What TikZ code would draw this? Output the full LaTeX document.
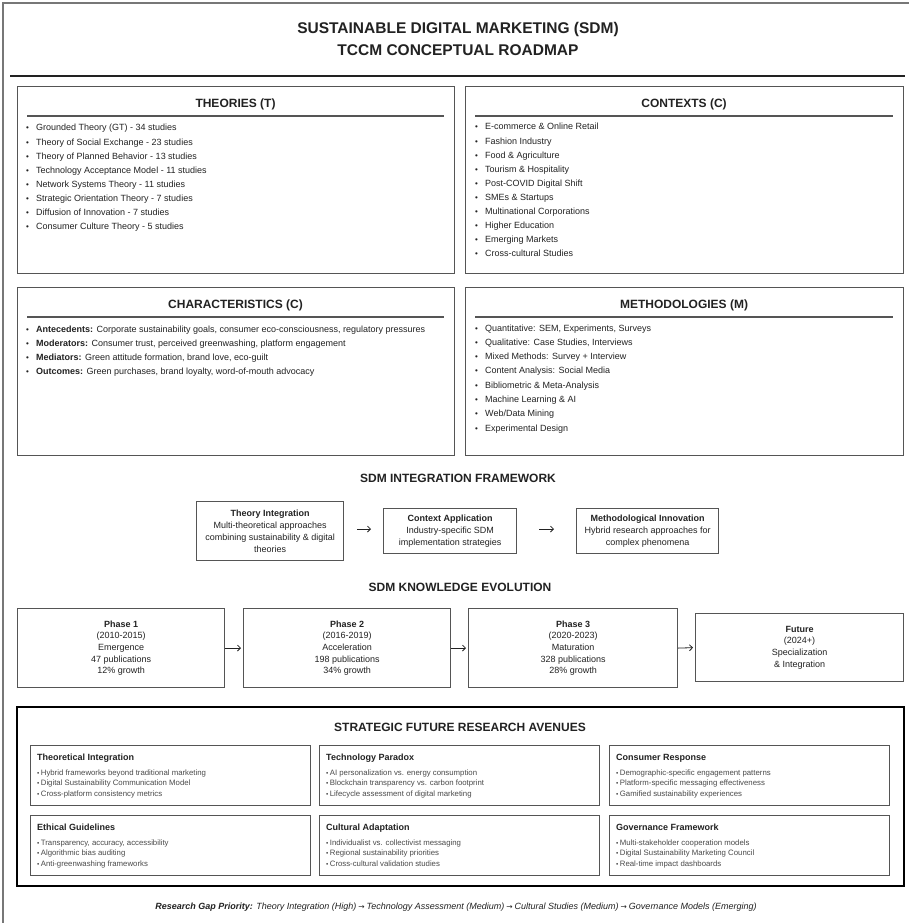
\documentclass[tikz,border=0pt]{standalone}
\usepackage{fontspec}
\setmainfont{Liberation Sans}
\newfontfamily\symfont{DejaVu Sans}
\usetikzlibrary{arrows.meta,calc}
\definecolor{boxgray}{HTML}{555555}
\definecolor{txt}{HTML}{222222}
\definecolor{subtxt}{HTML}{4A4A4A}
\definecolor{framegray}{HTML}{777777}
\newcommand\bul{\makebox[10pt][l]{\fontsize{8}{8}\selectfont •}}
\newcommand\sbul{{\fontsize{6.5}{6}\selectfont •}\hspace{1.4pt}}
\newcommand\harr{\hspace{2pt}{\symfont\fontsize{7.5}{7}\selectfont →}\hspace{2pt}}
\tikzset{
  panel/.style={draw=boxgray, line width=1.3pt, anchor=north west, inner sep=0pt},
  hdr/.style={font=\bfseries\fontsize{12}{14}\selectfont, text=txt},
  hrule/.style={draw=boxgray, line width=1.2pt},
  item/.style={anchor=base west, font=\fontsize{9}{11}\selectfont, text=txt, inner sep=0pt},
  sectitle/.style={font=\bfseries\fontsize{12}{14}\selectfont, text=txt},
  fwbox/.style={draw=boxgray, line width=1.2pt, align=center, font=\fontsize{9}{12}\selectfont, text=txt, inner sep=0pt, anchor=north west},
  phasebox/.style={draw=boxgray, line width=1.2pt, anchor=north west, inner sep=0pt},
  phasetxt/.style={align=center, font=\fontsize{9}{11.7}\selectfont, text=txt},
  subbox/.style={draw=boxgray, line width=1.2pt, anchor=north west, inner sep=0pt},
  subttl/.style={anchor=base west, font=\bfseries\fontsize{9}{11}\selectfont, text=txt, inner sep=0pt},
  subitem/.style={anchor=base west, font=\fontsize{7.8}{9}\selectfont, text=subtxt, inner sep=0pt},
  arr/.style={-{Straight Barb[length=3pt,width=6pt]}, line width=0.8pt, draw=txt},
}
\newcommand\mksub[5]{%
  \node[subbox, minimum width=280, minimum height=60] (#1) at (#2,#3) {};
  \node[subttl] (#1t) at ({#2+7},{#3+15}) {#4};
  \foreach \t [count=\i from 0] in {#5}
    \node[subitem] (#1i\i) at ({#2+7},{#3+30+10.5*\i}) {\sbul\t};
}
\begin{document}
\begin{tikzpicture}[x=1pt,y=-1pt]
\useasboundingbox (0,0) rectangle (909,923);
\fill[white] (0,0) rectangle (909,923);
% outer frame (left and top edges visible)
\draw[framegray, line width=1.5pt] (3,923) -- (3,3) -- (909,3);

% title
\node[font=\bfseries\fontsize{15.5}{22}\selectfont, align=center, text=txt] (title) at (458,39)
  {SUSTAINABLE DIGITAL MARKETING (SDM)\\TCCM CONCEPTUAL ROADMAP};
\coordinate (rl) at (10,76);
\coordinate (rr) at (905,76);
\draw[line width=2.5pt, draw=txt] (rl) -- (rr);

% THEORIES
\node[panel, minimum width=437, minimum height=187] (T) at (17,86) {};
\node[hdr] (Th) at (235.5,104) {THEORIES (T)};
\draw[hrule] (27,116) -- (444,116);
\foreach \t [count=\i from 0] in {
  {Grounded Theory (GT) - 34 studies},
  {Theory of Social Exchange - 23 studies},
  {Theory of Planned Behavior - 13 studies},
  {Technology Acceptance Model - 11 studies},
  {Network Systems Theory - 11 studies},
  {Strategic Orientation Theory - 7 studies},
  {Diffusion of Innovation - 7 studies},
  {Consumer Culture Theory - 5 studies}}
  \node[item] (ti\i) at (26,{131+14.1*\i}) {\bul\t};

% CONTEXTS
\node[panel, minimum width=438, minimum height=187] (C) at (465,86) {};
\node[hdr] (Ch) at (684,104) {CONTEXTS (C)};
\draw[hrule] (475,116) -- (893,116);
\foreach \t [count=\i from 0] in {
  {E-commerce \& Online Retail},
  {Fashion Industry},
  {Food \& Agriculture},
  {Tourism \& Hospitality},
  {Post-COVID Digital Shift},
  {SMEs \& Startups},
  {Multinational Corporations},
  {Higher Education},
  {Emerging Markets},
  {Cross-cultural Studies}}
  \node[item] (ci\i) at (475,{130+14.1*\i}) {\bul\t};

% CHARACTERISTICS
\node[panel, minimum width=437, minimum height=168] (K) at (17,287) {};
\node[hdr] (Kh) at (235.5,305) {CHARACTERISTICS (C)};
\draw[hrule] (27,317) -- (444,317);
\foreach \t [count=\i from 0] in {
  {\textbf{Antecedents:} Corporate sustainability goals, consumer eco-consciousness, regulatory pressures},
  {\textbf{Moderators:} Consumer trust, perceived greenwashing, platform engagement},
  {\textbf{Mediators:} Green attitude formation, brand love, eco-guilt},
  {\textbf{Outcomes:} Green purchases, brand loyalty, word-of-mouth advocacy}}
  \node[item] (ki\i) at (26,{332+14.3*\i}) {\bul\t};

% METHODOLOGIES
\node[panel, minimum width=438, minimum height=168] (M) at (465,287) {};
\node[hdr] (Mh) at (684,305) {METHODOLOGIES (M)};
\draw[hrule] (475,317) -- (893,317);
\foreach \t [count=\i from 0] in {
  {Quantitative: SEM, Experiments, Surveys},
  {Qualitative: Case Studies, Interviews},
  {Mixed Methods: Survey + Interview},
  {Content Analysis: Social Media},
  {Bibliometric \& Meta-Analysis},
  {Machine Learning \& AI},
  {Web/Data Mining},
  {Experimental Design}}
  \node[item] (mi\i) at (475,{331+14.3*\i}) {\bul\t};

% INTEGRATION FRAMEWORK
\node[sectitle] (fwt) at (458,478) {SDM INTEGRATION FRAMEWORK};
\node[fwbox, minimum width=147, minimum height=59] (fw1) at (196,501)
  {\textbf{Theory Integration}\\Multi-theoretical approaches\\combining sustainability \& digital\\theories};
\node[fwbox, minimum width=133, minimum height=45] (fw2) at (383,508)
  {\textbf{Context Application}\\Industry-specific SDM\\implementation strategies};
\node[fwbox, minimum width=142, minimum height=45] (fw3) at (576,508)
  {\textbf{Methodological Innovation}\\Hybrid research approaches for\\complex phenomena};
\draw[arr, shorten <=13pt, shorten >=12pt] ([yshift=2pt]fw1.east) -- ([yshift=2pt]fw2.west);
\draw[arr, shorten <=22pt, shorten >=22pt] ([yshift=2pt]fw2.east) -- ([yshift=2pt]fw3.west);

% KNOWLEDGE EVOLUTION
\node[sectitle] (kev) at (460,587) {SDM KNOWLEDGE EVOLUTION};
\node[phasebox, minimum width=207, minimum height=79] (p1) at (17,608) {};
\node[phasebox, minimum width=207, minimum height=79] (p2) at (243,608) {};
\node[phasebox, minimum width=209, minimum height=79] (p3) at (468,608) {};
\node[phasebox, minimum width=208, minimum height=68] (p4) at (695,613) {};
\node[phasetxt] (p1t) at (p1.center) {\textbf{Phase 1}\\(2010-2015)\\Emergence\\47 publications\\12\% growth};
\node[phasetxt] (p2t) at (p2.center) {\textbf{Phase 2}\\(2016-2019)\\Acceleration\\198 publications\\34\% growth};
\node[phasetxt] (p3t) at (p3.center) {\textbf{Phase 3}\\(2020-2023)\\Maturation\\328 publications\\28\% growth};
\node[phasetxt] (p4t) at (p4.center) {\textbf{Future}\\(2024+)\\Specialization\\\& Integration};
\draw[arr, shorten >=2pt] (p1.east) -- (p2.west);
\draw[arr, shorten >=2pt] (p2.east) -- (p3.west);
\draw[arr, shorten >=2pt] (p3.east) -- (p4.west);

% STRATEGIC FUTURE RESEARCH AVENUES
\node[draw=black, line width=2pt, anchor=north west, inner sep=0pt, minimum width=887, minimum height=179] (S) at (16,706) {};
\node[sectitle] (St) at (460,727) {STRATEGIC FUTURE RESEARCH AVENUES};
\mksub{sa}{30}{745}{Theoretical Integration}{{Hybrid frameworks beyond traditional marketing},{Digital Sustainability Communication Model},{Cross-platform consistency metrics}}
\mksub{sb}{319}{745}{Technology Paradox}{{AI personalization vs. energy consumption},{Blockchain transparency vs. carbon footprint},{Lifecycle assessment of digital marketing}}
\mksub{sc}{609}{745}{Consumer Response}{{Demographic-specific engagement patterns},{Platform-specific messaging effectiveness},{Gamified sustainability experiences}}
\mksub{sd}{30}{815}{Ethical Guidelines}{{Transparency, accuracy, accessibility},{Algorithmic bias auditing},{Anti-greenwashing frameworks}}
\mksub{se}{319}{815}{Cultural Adaptation}{{Individualist vs. collectivist messaging},{Regional sustainability priorities},{Cross-cultural validation studies}}
\mksub{sf}{609}{815}{Governance Framework}{{Multi-stakeholder cooperation models},{Digital Sustainability Marketing Council},{Real-time impact dashboards}}

% footer
\node[font=\itshape\fontsize{9}{11}\selectfont, text=txt] (foot) at (456,907)
  {\textbf{Research Gap Priority:} Theory Integration (High)\harr Technology Assessment (Medium)\harr Cultural Studies (Medium)\harr Governance Models (Emerging)};
\end{tikzpicture}
\end{document}
